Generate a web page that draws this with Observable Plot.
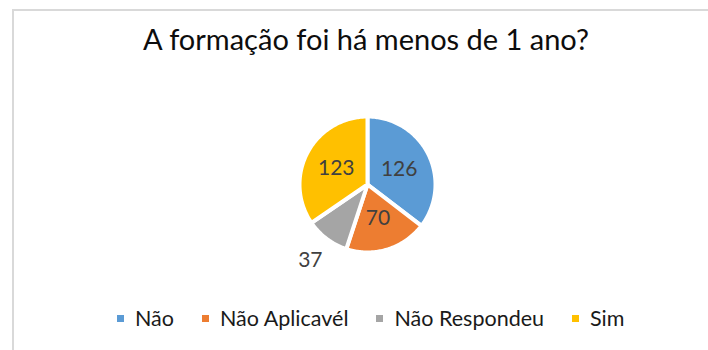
<!DOCTYPE html>
<html>
<head>
<meta charset="utf-8">
<script src="https://cdn.jsdelivr.net/npm/d3@7"></script>
<script src="https://cdn.jsdelivr.net/npm/@observablehq/plot@0.6"></script>
<style>
  body { margin: 0; background: #fff; font-family: Lato, "Noto Sans", sans-serif; }
  #chart { position: relative; width: 708px; height: 350px; overflow: hidden; background: #fff; }
  #frame { position: absolute; left: 12px; top: 9px; width: 720px; height: 360px;
           border-left: 2px solid #d9d9d9; border-top: 2px solid #d9d9d9; }
  #title { position: absolute; left: 12px; width: 708px; top: 24px; text-align: center;
           font: 29px/29px Lato, sans-serif; color: #0d0d0d; white-space: nowrap; }
  #pie { position: absolute; left: 0; top: 80px; }
  #legend { position: absolute; left: 117px; top: 305px; color: #1a1a1a; }
  #legend .lg-swatches { font-family: Lato, sans-serif; font-size: 21.5px; margin: 0; min-height: 0; }
  #legend .lg-swatch { margin-right: 28px; }
  #legend .lg-swatch > svg { margin-right: 11px; }
</style>
</head>
<body>
<div id="chart">
  <div id="frame"></div>
  <div id="title">A formação foi há menos de 1 ano?</div>
  <div id="pie"></div>
  <div id="legend"></div>
</div>
<script>
// Responses to "A formação foi há menos de 1 ano?"
const categories = ["Não", "Não Aplicavél", "Não Respondeu", "Sim"];
const counts = [126, 70, 37, 123];
const colors = ["#5B9BD5", "#ED7D31", "#A5A5A5", "#FFC000"];

// Pie geometry: center and radius in SVG pixels
const cx = 367, cy = 104, R = 68;

// Slice angles, clockwise from 12 o'clock, in category order
const arcs = d3.pie().sort(null).value(i => counts[i])(d3.range(categories.length));
const total = d3.sum(counts);

// Each slice as a closed polygon in unit coordinates (y up)
const outline = [];
for (const a of arcs) {
  const cat = categories[a.data];
  outline.push({cat, x: 0, y: 0});
  const n = Math.max(2, Math.ceil((a.endAngle - a.startAngle) / (Math.PI / 180)));
  for (let k = 0; k <= n; ++k) {
    const t = a.startAngle + (a.endAngle - a.startAngle) * k / n;
    outline.push({cat, x: Math.sin(t), y: Math.cos(t)});
  }
}

// Value labels: inside the slice, or outside for small slices
const labels = arcs.map(a => {
  const mid = (a.startAngle + a.endAngle) / 2;
  const r = counts[a.data] / total < 0.15 ? 1.4 : 0.52;
  return {cat: categories[a.data], value: counts[a.data], x: r * Math.sin(mid), y: r * Math.cos(mid)};
});

const color = {domain: categories, range: colors};

const pie = Plot.plot({
  width: 708,
  height: 200,
  margin: 0,
  style: {background: "transparent"},
  x: {domain: [-1, 1], range: [cx - R, cx + R], axis: null},
  y: {domain: [-1, 1], range: [cy + R, cy - R], axis: null},
  color,
  marks: [
    Plot.line(outline, {
      x: "x", y: "y", z: "cat", fill: "cat",
      stroke: "white", strokeWidth: 4, curve: "linear-closed"
    }),
    Plot.text(labels, {
      x: "x", y: "y", text: d => String(d.value),
      fill: "#404040", fontSize: 21, fontFamily: "Lato, sans-serif"
    })
  ]
});
document.getElementById("pie").appendChild(pie);

const legend = Plot.legend({
  color,
  legend: "swatches",
  swatchSize: 7,
  className: "lg"
});
document.getElementById("legend").appendChild(legend);
</script>
</body>
</html>
